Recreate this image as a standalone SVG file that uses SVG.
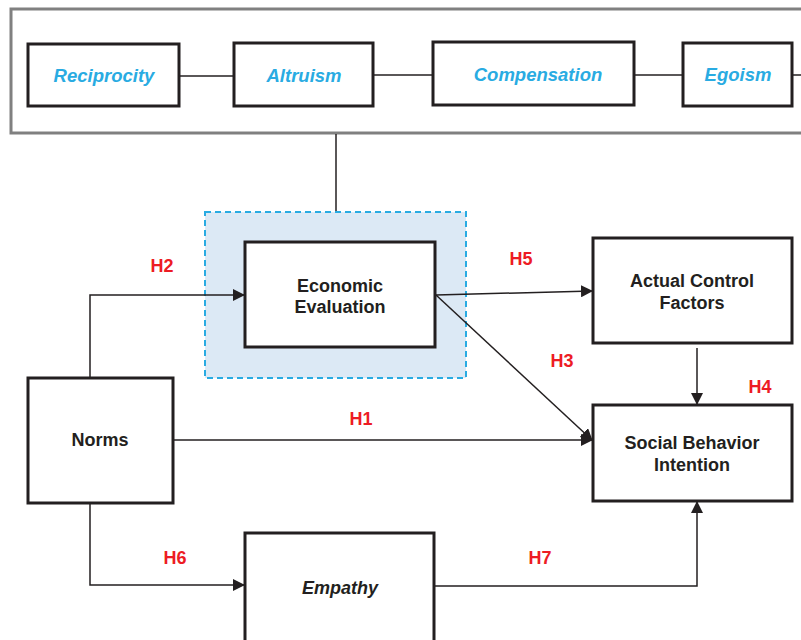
<svg xmlns="http://www.w3.org/2000/svg" width="801" height="640" viewBox="0 0 801 640">
<defs>
<marker id="ah" markerWidth="12" markerHeight="12" refX="11" refY="6" orient="auto" markerUnits="userSpaceOnUse">
<path d="M0,0 L12,6 L0,12 Z" fill="#231f20"/>
</marker>
<style>
.box{fill:#fff;stroke:#231f20;stroke-width:3}
.lbl{font-family:"Liberation Sans",Arial,sans-serif;font-weight:bold;font-size:18px;fill:#231f20;text-anchor:middle}
.blue{font-family:"Liberation Sans",Arial,sans-serif;font-weight:bold;font-style:italic;font-size:18.5px;fill:#29abe2;text-anchor:middle}
.h{font-family:"Liberation Sans",Arial,sans-serif;font-weight:bold;font-size:18px;fill:#ed1c24;text-anchor:middle}
.ln{fill:none;stroke:#231f20;stroke-width:1.5}
.arr{fill:none;stroke:#231f20;stroke-width:1.5;marker-end:url(#ah)}
</style>
</defs>
<rect width="801" height="640" fill="#fff"/>
<g id="frame">
<rect x="11" y="9" width="800" height="124" fill="#fff" stroke="#808080" stroke-width="3"/>
</g>
<g id="reciprocity"><rect class="box" x="28" y="44" width="151" height="62"/><text class="blue" x="104" y="82">Reciprocity</text></g>
<g id="altruism"><rect class="box" x="234" y="43" width="139" height="63"/><text class="blue" x="304" y="82" font-size="20">Altruism</text></g>
<g id="compensation"><rect class="box" x="433" y="42" width="201" height="63"/><text class="blue" x="538" y="81">Compensation</text></g>
<g id="egoism"><rect class="box" x="683" y="43" width="109" height="63"/><text class="blue" x="738" y="81">Egoism</text></g>
<g id="economic-evaluation">
<rect x="205" y="212" width="261" height="166" fill="#dce9f5" stroke="#29abe2" stroke-width="2" stroke-dasharray="6,4"/>
<rect class="box" x="245" y="242" width="190" height="105"/>
<text class="lbl" x="340" y="292">Economic</text>
<text class="lbl" x="340" y="313">Evaluation</text>
</g>
<g id="actual-control-factors"><rect class="box" x="593" y="238" width="199" height="105"/><text class="lbl" x="692" y="287">Actual Control</text><text class="lbl" x="692" y="309">Factors</text></g>
<g id="social-behavior-intention"><rect class="box" x="593" y="405" width="199" height="96"/><text class="lbl" x="692" y="449">Social Behavior</text><text class="lbl" x="692" y="471">Intention</text></g>
<g id="norms"><rect class="box" x="28" y="378" width="145" height="125"/><text class="lbl" x="100" y="446">Norms</text></g>
<g id="empathy"><rect class="box" x="245" y="533" width="189" height="120"/><text class="lbl" x="340" y="594" font-style="italic">Empathy</text></g>
<g id="connectors">
<line class="ln" x1="179" y1="76" x2="234" y2="76"/>
<line class="ln" x1="373" y1="75" x2="433" y2="75"/>
<line class="ln" x1="634" y1="75" x2="683" y2="75"/>
<line class="ln" x1="792" y1="75" x2="801" y2="75"/>
<line class="ln" x1="336" y1="134" x2="336" y2="211" stroke-width="2"/>
<polyline class="arr" points="90,377 90,295 244,295"/>
<line class="arr" x1="436" y1="295" x2="592" y2="291"/>
<line class="arr" x1="436" y1="295" x2="592" y2="440"/>
<line class="arr" x1="174" y1="440" x2="592" y2="440"/>
<line class="arr" x1="697" y1="348" x2="697" y2="404"/>
<polyline class="arr" points="90,504 90,585 244,585"/>
<polyline class="arr" points="435,586 697,586 697,502"/>
</g>
<g id="labels">
<text class="h" x="162" y="272">H2</text>
<text class="h" x="521" y="265">H5</text>
<text class="h" x="562" y="367">H3</text>
<text class="h" x="760" y="393">H4</text>
<text class="h" x="361" y="425">H1</text>
<text class="h" x="175" y="564">H6</text>
<text class="h" x="540" y="564">H7</text>
</g>
</svg>
